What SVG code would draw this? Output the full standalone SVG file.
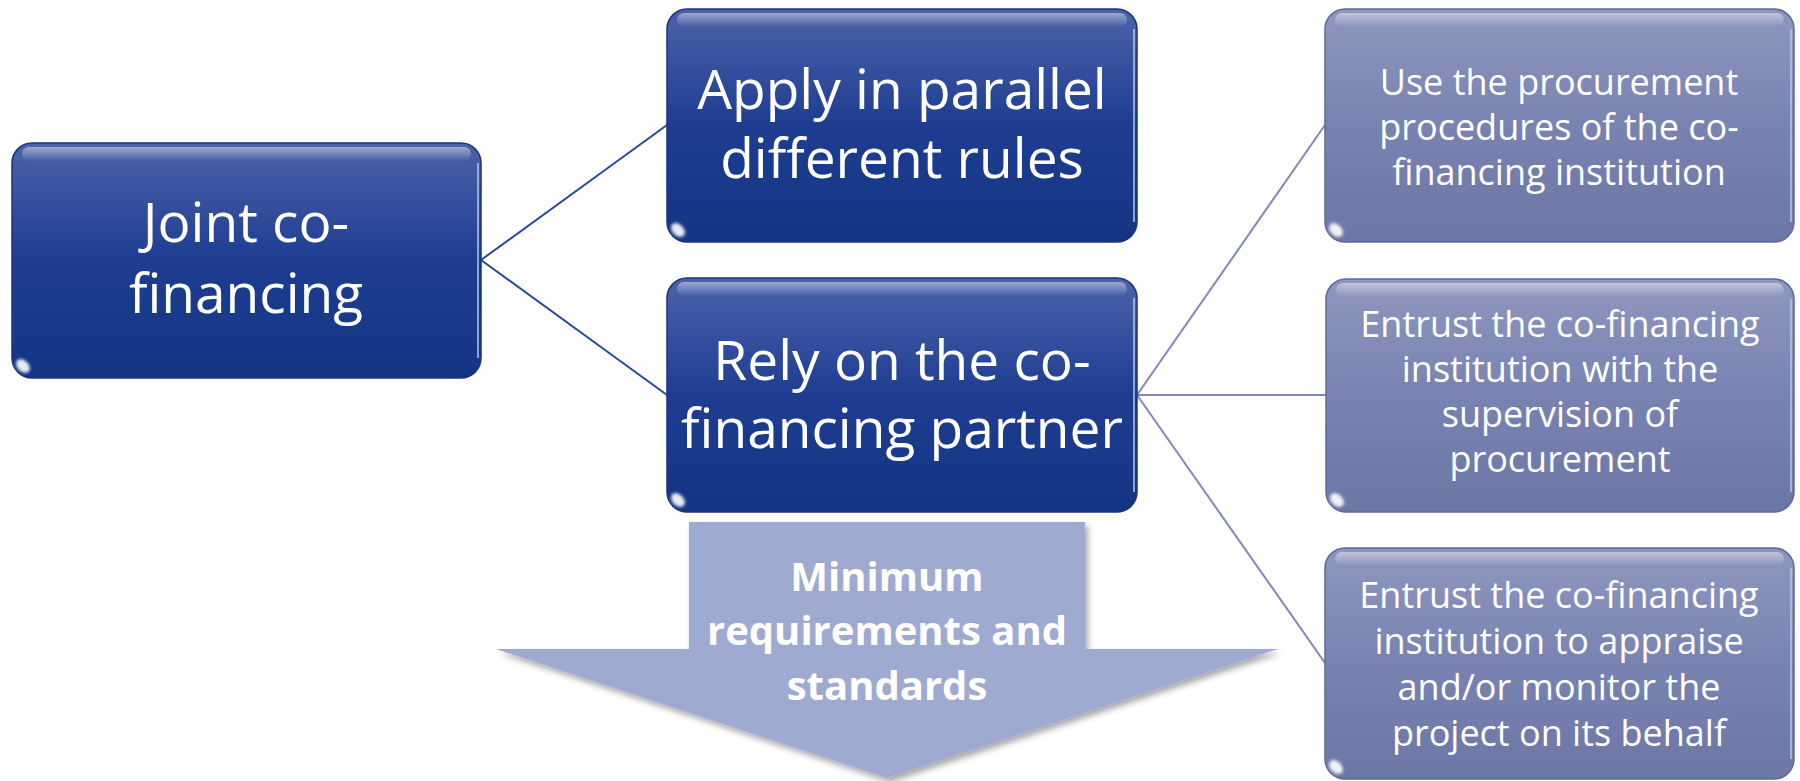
<svg xmlns="http://www.w3.org/2000/svg" width="1800" height="781" viewBox="0 0 1800 781">
<defs>
<linearGradient id="gDark" x1="0" y1="0" x2="0" y2="1">
<stop offset="0" stop-color="#4C63A9"/>
<stop offset="0.5" stop-color="#1E3D91"/>
<stop offset="1" stop-color="#143583"/>
</linearGradient>
<linearGradient id="gLight" x1="0" y1="0" x2="0" y2="1">
<stop offset="0" stop-color="#8D97BE"/>
<stop offset="0.5" stop-color="#7983B1"/>
<stop offset="1" stop-color="#6C77A6"/>
</linearGradient>
<linearGradient id="gShine" x1="0" y1="0" x2="0" y2="1">
<stop offset="0" stop-color="#FFFFFF" stop-opacity="0.45"/>
<stop offset="1" stop-color="#FFFFFF" stop-opacity="0"/>
</linearGradient>
<filter id="shadow" x="-10%" y="-10%" width="130%" height="130%">
<feDropShadow dx="3" dy="4" stdDeviation="3" flood-color="#000000" flood-opacity="0.35"/>
</filter>
<filter id="blur" x="-50%" y="-50%" width="200%" height="200%">
<feGaussianBlur stdDeviation="1.6"/>
</filter>
</defs>
<style>
.dark{fill:url(#gDark);stroke:#1A347E;stroke-width:1.5}
.light{fill:url(#gLight);stroke:#5F6A99;stroke-width:1.5}
.shine{fill:url(#gShine)}
.edge{stroke:#B4C6F2;stroke-width:2;stroke-opacity:0.75;fill:none}
.spot{fill:#FFFFFF;fill-opacity:0.9;filter:url(#blur)}
.big{font-family:"Open Sans","Noto Sans",sans-serif;font-size:55px;fill:#FFFFFF;text-anchor:middle}
.small{font-family:"Open Sans","Noto Sans",sans-serif;font-size:36px;fill:#FFFFFF;text-anchor:middle}
.bold{font-family:"Open Sans","Noto Sans",sans-serif;font-size:40px;font-weight:bold;fill:#FFFFFF;text-anchor:middle}
.c1{stroke:#2B4A96;stroke-width:2;fill:none}
.c2{stroke:#7F89B5;stroke-width:2;fill:none}
</style>
<g id="connectors">
<line class="c1" x1="481" y1="260" x2="667" y2="125"/>
<line class="c1" x1="481" y1="260" x2="667" y2="395"/>
<line class="c2" x1="1137" y1="395" x2="1325" y2="125"/>
<line class="c2" x1="1137" y1="395" x2="1326" y2="395"/>
<line class="c2" x1="1137" y1="395" x2="1325" y2="663"/>
</g>
<g id="arrow">
<polygon points="689,522 1085,522 1085,649 1278,649 887,778 496,649 689,649" fill="#9FAAD0" filter="url(#shadow)"/>
<text class="bold" x="887" y="591">Minimum</text>
<text class="bold" x="887" y="645">requirements and</text>
<text class="bold" x="887" y="700">standards</text>
</g>
<g id="joint">
<rect class="dark" x="12" y="143" width="469" height="235" rx="20"/>
<rect class="shine" x="22" y="147" width="449" height="14" rx="7"/>
<line class="edge" x1="478" y1="163" x2="478" y2="358"/>
<ellipse class="spot" cx="23" cy="366" rx="8" ry="5.5" transform="rotate(45 23 366)"/>
<text class="big" x="246" y="242">Joint co-</text>
<text class="big" x="246" y="313">financing</text>
</g>
<g id="apply">
<rect class="dark" x="667" y="9" width="470" height="233" rx="20"/>
<rect class="shine" x="677" y="13" width="450" height="14" rx="7"/>
<line class="edge" x1="1134" y1="29" x2="1134" y2="222"/>
<ellipse class="spot" cx="678" cy="230" rx="8" ry="5.5" transform="rotate(45 678 230)"/>
<text class="big" x="902" y="109">Apply in parallel</text>
<text class="big" x="902" y="178">different rules</text>
</g>
<g id="rely">
<rect class="dark" x="667" y="278" width="470" height="234" rx="20"/>
<rect class="shine" x="677" y="282" width="450" height="14" rx="7"/>
<line class="edge" x1="1134" y1="298" x2="1134" y2="492"/>
<ellipse class="spot" cx="678" cy="500" rx="8" ry="5.5" transform="rotate(45 678 500)"/>
<text class="big" x="902" y="380">Rely on the co-</text>
<text class="big" x="902" y="448">financing partner</text>
</g>
<g id="use">
<rect class="light" x="1325" y="9" width="469" height="233" rx="20"/>
<rect class="shine" x="1335" y="13" width="449" height="14" rx="7"/>
<line class="edge" x1="1791" y1="29" x2="1791" y2="222"/>
<ellipse class="spot" cx="1336" cy="230" rx="8" ry="5.5" transform="rotate(45 1336 230)"/>
<text class="small" x="1559" y="95">Use the procurement</text>
<text class="small" x="1559" y="140">procedures of the co-</text>
<text class="small" x="1559" y="185">financing institution</text>
</g>
<g id="supervision">
<rect class="light" x="1326" y="279" width="468" height="233" rx="20"/>
<rect class="shine" x="1336" y="283" width="448" height="14" rx="7"/>
<line class="edge" x1="1791" y1="299" x2="1791" y2="492"/>
<ellipse class="spot" cx="1337" cy="500" rx="8" ry="5.5" transform="rotate(45 1337 500)"/>
<text class="small" x="1560" y="337">Entrust the co-financing</text>
<text class="small" x="1560" y="382">institution with the</text>
<text class="small" x="1560" y="427">supervision of</text>
<text class="small" x="1560" y="472">procurement</text>
</g>
<g id="appraise">
<rect class="light" x="1325" y="548" width="469" height="231" rx="20"/>
<rect class="shine" x="1335" y="552" width="449" height="14" rx="7"/>
<line class="edge" x1="1791" y1="568" x2="1791" y2="759"/>
<ellipse class="spot" cx="1336" cy="767" rx="8" ry="5.5" transform="rotate(45 1336 767)"/>
<text class="small" x="1559" y="608">Entrust the co-financing</text>
<text class="small" x="1559" y="654">institution to appraise</text>
<text class="small" x="1559" y="700">and/or monitor the</text>
<text class="small" x="1559" y="746">project on its behalf</text>
</g>
</svg>
